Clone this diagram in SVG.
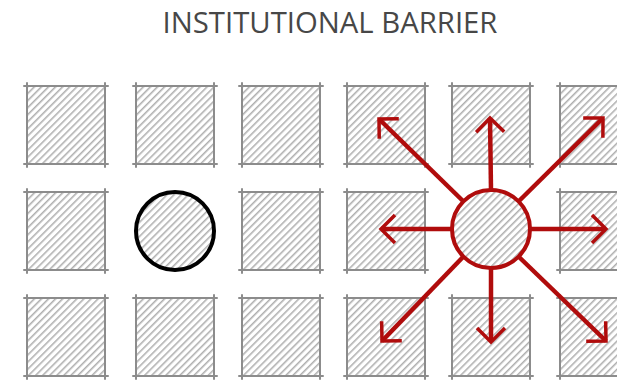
<svg xmlns="http://www.w3.org/2000/svg" xmlns:xlink="http://www.w3.org/1999/xlink" width="617" height="383" viewBox="0 0 617 383">
<style>
.title{font-family:"Open Sans","Liberation Sans",sans-serif;font-size:29.3px;fill:#474747;}
.edge{stroke:#8c8c8c;stroke-width:2;stroke-linecap:round;fill:none;}
.arrow{stroke:#b00c0c;stroke-width:4.5;fill:none;marker-end:url(#head);}
</style>
<defs>
<pattern id="hatch" patternUnits="userSpaceOnUse" width="5" height="5" patternTransform="rotate(45)">
<rect width="5" height="5" fill="#ffffff"/>
<line x1="0.8" y1="0" x2="0.8" y2="5" stroke="#a6a6a6" stroke-width="1.4"/>
</pattern>
<g id="box">
<rect x="0" y="0" width="78" height="78" fill="url(#hatch)"/>
<line class="edge" x1="-3" y1="0" x2="81" y2="0"/>
<line class="edge" x1="-3" y1="78" x2="81" y2="78"/>
<line class="edge" x1="0" y1="-3" x2="0" y2="81"/>
<line class="edge" x1="78" y1="-3" x2="78" y2="81"/>
</g>
<marker id="head" markerUnits="userSpaceOnUse" markerWidth="40" markerHeight="40" viewBox="-20 -20 40 40" refX="0" refY="0" orient="auto">
<path d="M-14,-14 L0,0 L-14,14" fill="none" stroke="#b00c0c" stroke-width="3.5" stroke-linejoin="miter"/>
</marker>
</defs>
<rect width="617" height="383" fill="#ffffff"/>
<text class="title" x="330" y="33" text-anchor="middle">INSTITUTIONAL BARRIER</text>

<g id="b11"><use xlink:href="#box" x="27" y="86"/></g>
<g id="b12"><use xlink:href="#box" x="136" y="86"/></g>
<g id="b13"><use xlink:href="#box" x="242" y="86"/></g>
<g id="b14"><use xlink:href="#box" x="347" y="86"/></g>
<g id="b15"><use xlink:href="#box" x="452" y="86"/></g>
<g id="b16"><use xlink:href="#box" x="560" y="86"/></g>

<g id="b21"><use xlink:href="#box" x="27" y="192"/></g>
<g id="agent"><circle cx="175" cy="231" r="39" fill="url(#hatch)" stroke="#000000" stroke-width="4"/></g>
<g id="b23"><use xlink:href="#box" x="242" y="192"/></g>
<g id="b24"><use xlink:href="#box" x="347" y="192"/></g>
<g id="b26"><use xlink:href="#box" x="560" y="192"/></g>

<g id="b31"><use xlink:href="#box" x="27" y="298"/></g>
<g id="b32"><use xlink:href="#box" x="136" y="298"/></g>
<g id="b33"><use xlink:href="#box" x="242" y="298"/></g>
<g id="b34"><use xlink:href="#box" x="347" y="298"/></g>
<g id="b35"><use xlink:href="#box" x="452" y="298"/></g>
<g id="b36"><use xlink:href="#box" x="560" y="298"/></g>

<g id="connectors">
<line class="arrow" x1="491" y1="190" x2="490" y2="118"/>
<line class="arrow" x1="491" y1="268" x2="491" y2="342"/>
<line class="arrow" x1="452" y1="229" x2="381" y2="229"/>
<line class="arrow" x1="530" y1="229" x2="606" y2="229"/>
<line class="arrow" x1="463" y1="201" x2="379" y2="119"/>
<line class="arrow" x1="519" y1="201" x2="603" y2="118"/>
<line class="arrow" x1="463" y1="257" x2="382" y2="341"/>
<line class="arrow" x1="519" y1="257" x2="606" y2="341"/>
</g>
<g id="hub"><circle cx="491" cy="229" r="39" fill="url(#hatch)" stroke="#b00c0c" stroke-width="4"/></g>
</svg>
